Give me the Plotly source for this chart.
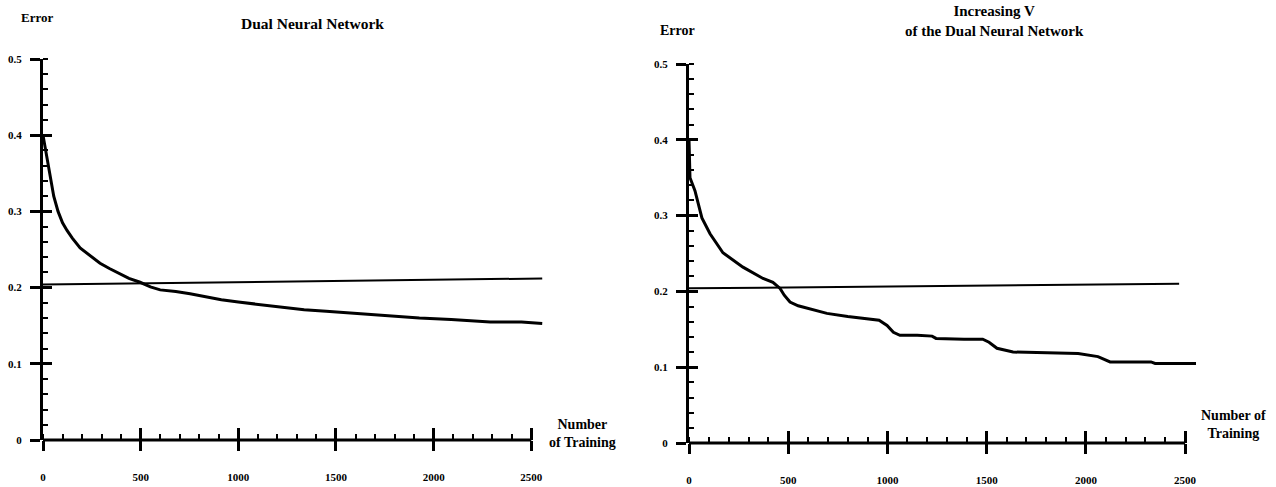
import plotly.graph_objects as go

W, H = 1276, 487

# ---------------- data ----------------
left_n = [0, 10, 20, 36, 55, 77, 100, 123, 150, 190, 240, 292, 340, 394, 440, 497, 550, 600,
          680, 753, 830, 913, 1000, 1158, 1250, 1337, 1450, 1603, 1750, 1927, 2090, 2290, 2450, 2556]
left_err = [0.400, 0.385, 0.370, 0.345, 0.320, 0.300, 0.285, 0.275, 0.265, 0.252, 0.242, 0.232,
            0.225, 0.218, 0.212, 0.207, 0.201, 0.197, 0.195, 0.192, 0.188, 0.184, 0.181, 0.176,
            0.174, 0.171, 0.169, 0.166, 0.163, 0.160, 0.158, 0.155, 0.155, 0.153]

right_n = [0, 5, 30, 65, 106, 171, 272, 373, 423, 459, 480, 509, 550, 595, 695, 800, 880, 958,
           998, 1030, 1063, 1150, 1225, 1245, 1386, 1480, 1512, 1552, 1633, 1800, 1961, 2061,
           2122, 2250, 2328, 2349, 2555]
right_err = [0.400, 0.350, 0.333, 0.297, 0.276, 0.251, 0.232, 0.217, 0.212, 0.204, 0.195, 0.186,
             0.181, 0.178, 0.171, 0.167, 0.164, 0.162, 0.155, 0.146, 0.142, 0.142, 0.141, 0.138,
             0.137, 0.137, 0.133, 0.125, 0.120, 0.119, 0.118, 0.114, 0.107, 0.107, 0.107, 0.105,
             0.105]

left_ref_n = [0, 2556]
left_ref_err = [0.204, 0.212]
right_ref_n = [0, 2470]
right_ref_err = [0.204, 0.210]

x_tickvals = [0, 500, 1000, 1500, 2000, 2500]
x_ticktext = ["0", "500", "1000", "1500", "2000", "2500"]
x_minorvals = [0, 100, 200, 300, 400, 500, 600, 700, 800, 900, 1000, 1100, 1200, 1300, 1400,
               1500, 1600, 1700, 1800, 1900, 2000, 2100, 2200, 2300, 2400, 2500]
y_tickvals = [0, 0.1, 0.2, 0.3, 0.4, 0.5]
y_ticktext = ["0", "0.1", "0.2", "0.3", "0.4", "0.5"]
y_minorvals = [0, 0.02, 0.04, 0.06, 0.08, 0.1, 0.12, 0.14, 0.16, 0.18, 0.2, 0.22, 0.24, 0.26,
               0.28, 0.3, 0.32, 0.34, 0.36, 0.38, 0.4, 0.42, 0.44, 0.46, 0.48, 0.5]

X_RANGE = [0, 2560]
Y_RANGE = [0, 0.5]

FONT = "Liberation Serif"
BLACK = "#000000"


def xdom(a, b):
    return [a / W, b / W]


def ydom(top, bottom):
    return [1 - bottom / H, 1 - top / H]


panels = [
    dict(n=left_n, e=left_err, rn=left_ref_n, re=left_ref_err,
         xd=xdom(43, 543), yd=ydom(59, 440)),
    dict(n=right_n, e=right_err, rn=right_ref_n, re=right_ref_err,
         xd=xdom(689, 1197), yd=ydom(64, 443)),
]

fig = go.Figure()
layout = dict(
    template="none",
    width=W, height=H,
    margin=dict(l=0, r=0, t=0, b=0, pad=0, autoexpand=False),
    paper_bgcolor="white", plot_bgcolor="white",
    showlegend=False,
    font=dict(family=FONT, color=BLACK),
)
shapes = []

tickfont = dict(family=FONT, size=11, color=BLACK, weight="bold")

for i, p in enumerate(panels):
    k = i + 1          # main axes
    o = i + 3          # overlay axes (for ticks on the other side)
    xa, ya = f"x{k}" if k > 1 else "x", f"y{k}" if k > 1 else "y"
    xo, yo = f"x{o}", f"y{o}"

    fig.add_trace(go.Scatter(x=p["n"], y=p["e"], mode="lines",
                             line=dict(color=BLACK, width=3),
                             xaxis=xa, yaxis=ya, hoverinfo="skip"))
    fig.add_trace(go.Scatter(x=p["rn"], y=p["re"], mode="lines",
                             line=dict(color=BLACK, width=2),
                             xaxis=xo, yaxis=yo, hoverinfo="skip"))

    layout[f"xaxis{k}" if k > 1 else "xaxis"] = dict(
        domain=p["xd"], range=X_RANGE, anchor=ya, automargin=False,
        showline=False, showgrid=False, zeroline=False,
        tickmode="array", tickvals=x_tickvals, ticktext=x_ticktext,
        ticks="outside", ticklen=10, tickwidth=3, tickcolor=BLACK,
        ticklabelstandoff=17, tickfont=tickfont,
        minor=dict(tickmode="array", tickvals=x_minorvals, ticks="inside",
                   ticklen=6, tickwidth=2, tickcolor=BLACK, showgrid=False),
    )
    layout[f"yaxis{k}" if k > 1 else "yaxis"] = dict(
        domain=p["yd"], range=Y_RANGE, anchor=xa, automargin=False,
        showline=True, linewidth=3, linecolor=BLACK,
        showgrid=False, zeroline=False,
        tickmode="array", tickvals=y_tickvals, ticktext=y_ticktext,
        ticks="outside", ticklen=10, tickwidth=3, tickcolor=BLACK,
        ticklabelstandoff=6, tickfont=tickfont,
        minor=dict(tickmode="array", tickvals=y_minorvals, ticks="inside",
                   ticklen=5, tickwidth=2, tickcolor=BLACK, showgrid=False),
    )
    layout[f"xaxis{o}"] = dict(
        overlaying=xa, anchor=yo, range=X_RANGE, automargin=False,
        showline=False, showgrid=False, zeroline=False, showticklabels=False,
        tickmode="array", tickvals=x_tickvals,
        ticks="inside", ticklen=12, tickwidth=3, tickcolor=BLACK,
    )
    layout[f"yaxis{o}"] = dict(
        overlaying=ya, anchor=xo, range=Y_RANGE, automargin=False,
        showline=False, showgrid=False, zeroline=False, showticklabels=False,
        tickmode="array", tickvals=y_tickvals,
        ticks="inside", ticklen=9, tickwidth=3, tickcolor=BLACK,
    )
    # x axis line from 0 to the last tick
    shapes.append(dict(type="line", xref=xa, yref="paper",
                       x0=x_tickvals[0], x1=x_tickvals[-1],
                       y0=p["yd"][0], y1=p["yd"][0],
                       line=dict(color=BLACK, width=3), layer="above"))

layout["shapes"] = shapes


def ann(text, px, py, size, xanchor="center"):
    return dict(text=text, x=px / W, y=1 - py / H, xref="paper", yref="paper",
                showarrow=False, xanchor=xanchor, yanchor="middle", align="center",
                font=dict(family=FONT, size=size, color=BLACK, weight="bold"))


layout["annotations"] = [
    ann("Error", 37, 18, 13),
    ann("Dual Neural Network", 312, 24, 15.5),
    ann("Number<br>of Training", 582, 433, 14),
    ann("Error", 677, 30, 14),
    ann("Increasing V<br>of the Dual Neural Network", 994, 21, 15),
    ann("Number of<br>Training", 1233, 424, 14),
]

fig.update_layout(**layout)
fig.write_html(
    "out.html",
    config={"displayModeBar": False},
    post_script="document.body.style.margin='0';document.body.style.overflow='hidden';",
)
